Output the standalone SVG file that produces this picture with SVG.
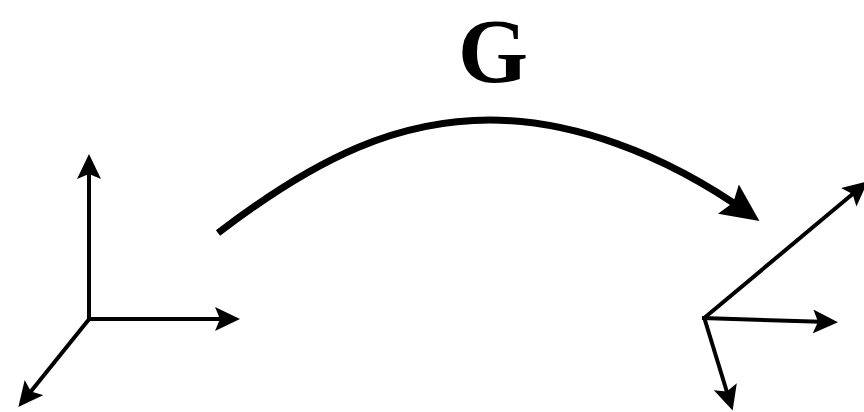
<svg xmlns="http://www.w3.org/2000/svg" width="864" height="412" viewBox="0 0 864 412">
  <style>
    .axis { stroke: #000; stroke-width: 4; fill: none; marker-end: url(#head); }
    .map { stroke: #000; stroke-width: 7; fill: none; marker-end: url(#bighead); }
    .lbl { font-family: "Liberation Serif", "Times New Roman", serif; font-weight: bold; font-size: 90px; fill: #000; }
  </style>
  <defs>
    <marker id="head" markerUnits="userSpaceOnUse" markerWidth="26" markerHeight="26" viewBox="0 0 26 26" refX="16" refY="12" orient="auto">
      <path d="M0,0 L25,12 L0,24 L5,12 Z" fill="#000"/>
    </marker>
    <marker id="bighead" markerUnits="userSpaceOnUse" markerWidth="42" markerHeight="40" viewBox="0 0 42 40" refX="24" refY="18" orient="auto">
      <path d="M0,0 L38,18 L0,36 L6,18 Z" fill="#000"/>
    </marker>
  </defs>
  <rect width="864" height="412" fill="#fff"/>
  <g id="frame-left">
    <line class="axis" x1="89" y1="319" x2="89" y2="163"/>
    <line class="axis" x1="88" y1="319" x2="231" y2="319"/>
    <line class="axis" x1="90" y1="318" x2="24" y2="400"/>
  </g>
  <g id="frame-right">
    <line class="axis" x1="703" y1="319" x2="861" y2="187"/>
    <line class="axis" x1="702" y1="318" x2="829" y2="322"/>
    <line class="axis" x1="704" y1="317" x2="730" y2="402"/>
  </g>
  <g id="label-G">
    <text class="lbl" x="493" y="82" text-anchor="middle">G</text>
  </g>
  <g id="connectors">
    <path class="map" d="M218,233 C320,155 400,120 490,120 C570,120 662,152 748,213"/>
  </g>
</svg>
